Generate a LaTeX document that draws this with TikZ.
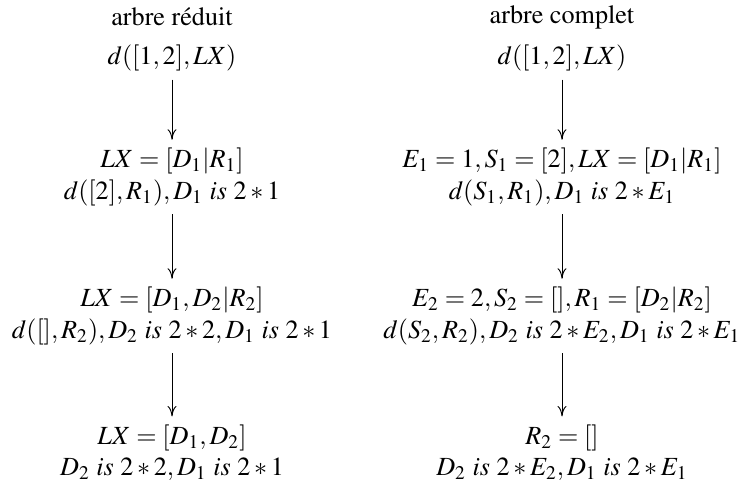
\documentclass[tikz,border=0pt]{standalone}
\usepackage[T1]{fontenc}
\usepackage{mathptmx}
\usetikzlibrary{arrows.meta}
\begin{document}
\begin{tikzpicture}[x=0.41667pt,y=-0.41667pt,
  st/.style={align=center,font=\fontsize{10.9}{13.1}\selectfont},
  arr/.style={-{Computer Modern Rightarrow[length=4.4pt,width=3.8pt]}}]
\useasboundingbox (0,0) rectangle (743,481);
% left column
\node[st] (tl) at (172,17) {arbre réduit};
\node[st] (l0) at (172,58) {$d([1,2],LX)$};
\node[st] (l1) at (172,177) {$LX=[D_1|R_1]$\\$d([2],R_1),D_1\ is\ 2*1$};
\node[st] (l2) at (172,316) {$LX=[D_1,D_2|R_2]$\\$d([],R_2),D_2\ is\ 2*2,D_1\ is\ 2*1$};
\node[st] (l3) at (172,453) {$LX=[D_1,D_2]$\\$D_2\ is\ 2*2,D_1\ is\ 2*1$};
\draw[arr] (l0) -- (l1);
\draw[arr] (l1) -- (l2);
\draw[arr] (l2) -- (l3);
% right column
\node[st] (tr) at (562,17) {arbre complet};
\node[st] (r0) at (562,58) {$d([1,2],LX)$};
\node[st] (r1) at (562,177) {$E_1=1,S_1=[2],LX=[D_1|R_1]$\\$d(S_1,R_1),D_1\ is\ 2*E_1$};
\node[st] (r2) at (562,316) {$E_2=2,S_2=[],R_1=[D_2|R_2]$\\$d(S_2,R_2),D_2\ is\ 2*E_2,D_1\ is\ 2*E_1$};
\node[st] (r3) at (562,453) {$R_2=[]$\\$D_2\ is\ 2*E_2,D_1\ is\ 2*E_1$};
\draw[arr] (r0) -- (r1);
\draw[arr] (r1) -- (r2);
\draw[arr] (r2) -- (r3);
\end{tikzpicture}
\end{document}
